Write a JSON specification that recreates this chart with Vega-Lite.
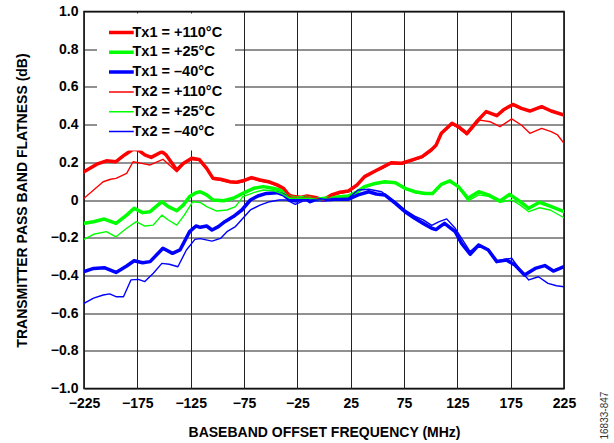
{
  "$schema": "https://vega.github.io/schema/vega-lite/v6.json",
  "width": 480,
  "height": 377,
  "autosize": {"type": "none"},
  "padding": {"left": 84, "top": 11.5, "right": 50, "bottom": 54.5},
  "background": "white",
  "config": {
    "font": "Liberation Sans",
    "view": {"stroke": "black", "strokeWidth": 1.5}
  },
  "title": {
    "text": "16833-847",
    "orient": "right",
    "anchor": "end",
    "frame": "bounds",
    "angle": -90,
    "align": "left",
    "baseline": "middle",
    "fontSize": 10,
    "fontWeight": "normal",
    "color": "#333333",
    "font": "Liberation Sans",
    "offset": 19
  },
  "data": {
    "values": [
      {"s": "Tx1 = +110°C", "f": -225, "v": 0.15},
      {"s": "Tx1 = +110°C", "f": -219, "v": 0.17},
      {"s": "Tx1 = +110°C", "f": -213, "v": 0.19},
      {"s": "Tx1 = +110°C", "f": -204, "v": 0.208},
      {"s": "Tx1 = +110°C", "f": -195, "v": 0.203},
      {"s": "Tx1 = +110°C", "f": -187, "v": 0.239},
      {"s": "Tx1 = +110°C", "f": -179, "v": 0.269},
      {"s": "Tx1 = +110°C", "f": -174, "v": 0.265},
      {"s": "Tx1 = +110°C", "f": -168, "v": 0.239},
      {"s": "Tx1 = +110°C", "f": -162, "v": 0.226},
      {"s": "Tx1 = +110°C", "f": -152, "v": 0.256},
      {"s": "Tx1 = +110°C", "f": -148, "v": 0.239},
      {"s": "Tx1 = +110°C", "f": -138, "v": 0.159},
      {"s": "Tx1 = +110°C", "f": -132, "v": 0.194},
      {"s": "Tx1 = +110°C", "f": -124, "v": 0.221},
      {"s": "Tx1 = +110°C", "f": -117, "v": 0.215},
      {"s": "Tx1 = +110°C", "f": -110, "v": 0.168},
      {"s": "Tx1 = +110°C", "f": -104, "v": 0.115},
      {"s": "Tx1 = +110°C", "f": -97, "v": 0.11},
      {"s": "Tx1 = +110°C", "f": -88, "v": 0.097},
      {"s": "Tx1 = +110°C", "f": -82, "v": 0.094},
      {"s": "Tx1 = +110°C", "f": -76, "v": 0.102},
      {"s": "Tx1 = +110°C", "f": -68, "v": 0.119},
      {"s": "Tx1 = +110°C", "f": -60, "v": 0.106},
      {"s": "Tx1 = +110°C", "f": -52, "v": 0.097},
      {"s": "Tx1 = +110°C", "f": -44, "v": 0.08},
      {"s": "Tx1 = +110°C", "f": -38, "v": 0.062},
      {"s": "Tx1 = +110°C", "f": -33, "v": 0.027},
      {"s": "Tx1 = +110°C", "f": -29, "v": 0.018},
      {"s": "Tx1 = +110°C", "f": -22, "v": 0.014},
      {"s": "Tx1 = +110°C", "f": -16, "v": 0.021},
      {"s": "Tx1 = +110°C", "f": -8, "v": 0.014},
      {"s": "Tx1 = +110°C", "f": -1, "v": 0.0},
      {"s": "Tx1 = +110°C", "f": 7, "v": 0.027},
      {"s": "Tx1 = +110°C", "f": 15, "v": 0.041},
      {"s": "Tx1 = +110°C", "f": 23, "v": 0.048},
      {"s": "Tx1 = +110°C", "f": 31, "v": 0.08},
      {"s": "Tx1 = +110°C", "f": 38, "v": 0.124},
      {"s": "Tx1 = +110°C", "f": 48, "v": 0.154},
      {"s": "Tx1 = +110°C", "f": 56, "v": 0.177},
      {"s": "Tx1 = +110°C", "f": 63, "v": 0.198},
      {"s": "Tx1 = +110°C", "f": 73, "v": 0.195},
      {"s": "Tx1 = +110°C", "f": 82, "v": 0.212},
      {"s": "Tx1 = +110°C", "f": 92, "v": 0.23},
      {"s": "Tx1 = +110°C", "f": 101, "v": 0.268},
      {"s": "Tx1 = +110°C", "f": 105, "v": 0.29},
      {"s": "Tx1 = +110°C", "f": 110, "v": 0.354},
      {"s": "Tx1 = +110°C", "f": 120, "v": 0.407},
      {"s": "Tx1 = +110°C", "f": 126, "v": 0.389},
      {"s": "Tx1 = +110°C", "f": 134, "v": 0.354},
      {"s": "Tx1 = +110°C", "f": 143, "v": 0.415},
      {"s": "Tx1 = +110°C", "f": 152, "v": 0.469},
      {"s": "Tx1 = +110°C", "f": 162, "v": 0.447},
      {"s": "Tx1 = +110°C", "f": 168, "v": 0.477},
      {"s": "Tx1 = +110°C", "f": 177, "v": 0.507},
      {"s": "Tx1 = +110°C", "f": 185, "v": 0.486},
      {"s": "Tx1 = +110°C", "f": 193, "v": 0.472},
      {"s": "Tx1 = +110°C", "f": 204, "v": 0.495},
      {"s": "Tx1 = +110°C", "f": 213, "v": 0.472},
      {"s": "Tx1 = +110°C", "f": 225, "v": 0.451},

      {"s": "Tx1 = +25°C", "f": -225, "v": -0.124},
      {"s": "Tx1 = +25°C", "f": -216, "v": -0.115},
      {"s": "Tx1 = +25°C", "f": -206, "v": -0.101},
      {"s": "Tx1 = +25°C", "f": -195, "v": -0.124},
      {"s": "Tx1 = +25°C", "f": -185, "v": -0.08},
      {"s": "Tx1 = +25°C", "f": -178, "v": -0.044},
      {"s": "Tx1 = +25°C", "f": -170, "v": -0.067},
      {"s": "Tx1 = +25°C", "f": -163, "v": -0.062},
      {"s": "Tx1 = +25°C", "f": -152, "v": -0.009},
      {"s": "Tx1 = +25°C", "f": -146, "v": -0.035},
      {"s": "Tx1 = +25°C", "f": -138, "v": -0.057},
      {"s": "Tx1 = +25°C", "f": -132, "v": -0.027},
      {"s": "Tx1 = +25°C", "f": -126, "v": 0.018},
      {"s": "Tx1 = +25°C", "f": -120, "v": 0.039},
      {"s": "Tx1 = +25°C", "f": -116, "v": 0.044},
      {"s": "Tx1 = +25°C", "f": -110, "v": 0.027},
      {"s": "Tx1 = +25°C", "f": -104, "v": 0.0},
      {"s": "Tx1 = +25°C", "f": -94, "v": -0.004},
      {"s": "Tx1 = +25°C", "f": -85, "v": 0.009},
      {"s": "Tx1 = +25°C", "f": -76, "v": 0.035},
      {"s": "Tx1 = +25°C", "f": -66, "v": 0.062},
      {"s": "Tx1 = +25°C", "f": -57, "v": 0.071},
      {"s": "Tx1 = +25°C", "f": -48, "v": 0.062},
      {"s": "Tx1 = +25°C", "f": -41, "v": 0.053},
      {"s": "Tx1 = +25°C", "f": -33, "v": 0.018},
      {"s": "Tx1 = +25°C", "f": -26, "v": 0.009},
      {"s": "Tx1 = +25°C", "f": -16, "v": 0.014},
      {"s": "Tx1 = +25°C", "f": -8, "v": 0.004},
      {"s": "Tx1 = +25°C", "f": 1, "v": 0.009},
      {"s": "Tx1 = +25°C", "f": 10, "v": 0.014},
      {"s": "Tx1 = +25°C", "f": 23, "v": 0.021},
      {"s": "Tx1 = +25°C", "f": 31, "v": 0.044},
      {"s": "Tx1 = +25°C", "f": 38, "v": 0.071},
      {"s": "Tx1 = +25°C", "f": 48, "v": 0.088},
      {"s": "Tx1 = +25°C", "f": 57, "v": 0.097},
      {"s": "Tx1 = +25°C", "f": 67, "v": 0.092},
      {"s": "Tx1 = +25°C", "f": 76, "v": 0.062},
      {"s": "Tx1 = +25°C", "f": 85, "v": 0.044},
      {"s": "Tx1 = +25°C", "f": 95, "v": 0.035},
      {"s": "Tx1 = +25°C", "f": 102, "v": 0.035},
      {"s": "Tx1 = +25°C", "f": 106, "v": 0.06},
      {"s": "Tx1 = +25°C", "f": 110, "v": 0.083},
      {"s": "Tx1 = +25°C", "f": 118, "v": 0.101},
      {"s": "Tx1 = +25°C", "f": 126, "v": 0.071},
      {"s": "Tx1 = +25°C", "f": 135, "v": 0.009},
      {"s": "Tx1 = +25°C", "f": 145, "v": 0.044},
      {"s": "Tx1 = +25°C", "f": 154, "v": 0.027},
      {"s": "Tx1 = +25°C", "f": 165, "v": -0.005},
      {"s": "Tx1 = +25°C", "f": 174, "v": 0.03},
      {"s": "Tx1 = +25°C", "f": 184, "v": -0.009},
      {"s": "Tx1 = +25°C", "f": 192, "v": -0.044},
      {"s": "Tx1 = +25°C", "f": 202, "v": -0.012},
      {"s": "Tx1 = +25°C", "f": 212, "v": -0.032},
      {"s": "Tx1 = +25°C", "f": 225, "v": -0.062},

      {"s": "Tx1 = –40°C", "f": -225, "v": -0.38},
      {"s": "Tx1 = –40°C", "f": -216, "v": -0.363},
      {"s": "Tx1 = –40°C", "f": -206, "v": -0.359},
      {"s": "Tx1 = –40°C", "f": -195, "v": -0.384},
      {"s": "Tx1 = –40°C", "f": -185, "v": -0.35},
      {"s": "Tx1 = –40°C", "f": -178, "v": -0.322},
      {"s": "Tx1 = –40°C", "f": -170, "v": -0.333},
      {"s": "Tx1 = –40°C", "f": -163, "v": -0.327},
      {"s": "Tx1 = –40°C", "f": -151, "v": -0.256},
      {"s": "Tx1 = –40°C", "f": -142, "v": -0.283},
      {"s": "Tx1 = –40°C", "f": -135, "v": -0.265},
      {"s": "Tx1 = –40°C", "f": -126, "v": -0.168},
      {"s": "Tx1 = –40°C", "f": -120, "v": -0.138},
      {"s": "Tx1 = –40°C", "f": -116, "v": -0.145},
      {"s": "Tx1 = –40°C", "f": -110, "v": -0.138},
      {"s": "Tx1 = –40°C", "f": -105, "v": -0.159},
      {"s": "Tx1 = –40°C", "f": -99, "v": -0.141},
      {"s": "Tx1 = –40°C", "f": -93, "v": -0.115},
      {"s": "Tx1 = –40°C", "f": -85, "v": -0.088},
      {"s": "Tx1 = –40°C", "f": -77, "v": -0.053},
      {"s": "Tx1 = –40°C", "f": -69, "v": 0.0},
      {"s": "Tx1 = –40°C", "f": -62, "v": 0.021},
      {"s": "Tx1 = –40°C", "f": -54, "v": 0.035},
      {"s": "Tx1 = –40°C", "f": -44, "v": 0.039},
      {"s": "Tx1 = –40°C", "f": -38, "v": 0.027},
      {"s": "Tx1 = –40°C", "f": -32, "v": 0.0},
      {"s": "Tx1 = –40°C", "f": -26, "v": -0.005},
      {"s": "Tx1 = –40°C", "f": -18, "v": 0.009},
      {"s": "Tx1 = –40°C", "f": -13, "v": -0.009},
      {"s": "Tx1 = –40°C", "f": -8, "v": 0.002},
      {"s": "Tx1 = –40°C", "f": 0, "v": 0.0},
      {"s": "Tx1 = –40°C", "f": 10, "v": 0.004},
      {"s": "Tx1 = –40°C", "f": 23, "v": 0.004},
      {"s": "Tx1 = –40°C", "f": 32, "v": 0.027},
      {"s": "Tx1 = –40°C", "f": 42, "v": 0.044},
      {"s": "Tx1 = –40°C", "f": 49, "v": 0.032},
      {"s": "Tx1 = –40°C", "f": 57, "v": 0.027},
      {"s": "Tx1 = –40°C", "f": 67, "v": -0.018},
      {"s": "Tx1 = –40°C", "f": 76, "v": -0.062},
      {"s": "Tx1 = –40°C", "f": 85, "v": -0.097},
      {"s": "Tx1 = –40°C", "f": 93, "v": -0.124},
      {"s": "Tx1 = –40°C", "f": 101, "v": -0.15},
      {"s": "Tx1 = –40°C", "f": 105, "v": -0.157},
      {"s": "Tx1 = –40°C", "f": 109, "v": -0.14},
      {"s": "Tx1 = –40°C", "f": 113, "v": -0.124},
      {"s": "Tx1 = –40°C", "f": 123, "v": -0.168},
      {"s": "Tx1 = –40°C", "f": 129, "v": -0.23},
      {"s": "Tx1 = –40°C", "f": 137, "v": -0.288},
      {"s": "Tx1 = –40°C", "f": 145, "v": -0.239},
      {"s": "Tx1 = –40°C", "f": 154, "v": -0.265},
      {"s": "Tx1 = –40°C", "f": 162, "v": -0.327},
      {"s": "Tx1 = –40°C", "f": 171, "v": -0.318},
      {"s": "Tx1 = –40°C", "f": 179, "v": -0.345},
      {"s": "Tx1 = –40°C", "f": 188, "v": -0.398},
      {"s": "Tx1 = –40°C", "f": 198, "v": -0.363},
      {"s": "Tx1 = –40°C", "f": 207, "v": -0.348},
      {"s": "Tx1 = –40°C", "f": 215, "v": -0.377},
      {"s": "Tx1 = –40°C", "f": 225, "v": -0.354},

      {"s": "Tx2 = +110°C", "f": -225, "v": 0.009},
      {"s": "Tx2 = +110°C", "f": -216, "v": 0.053},
      {"s": "Tx2 = +110°C", "f": -207, "v": 0.097},
      {"s": "Tx2 = +110°C", "f": -200, "v": 0.11},
      {"s": "Tx2 = +110°C", "f": -195, "v": 0.115},
      {"s": "Tx2 = +110°C", "f": -185, "v": 0.141},
      {"s": "Tx2 = +110°C", "f": -179, "v": 0.203},
      {"s": "Tx2 = +110°C", "f": -171, "v": 0.194},
      {"s": "Tx2 = +110°C", "f": -163, "v": 0.186},
      {"s": "Tx2 = +110°C", "f": -151, "v": 0.216},
      {"s": "Tx2 = +110°C", "f": -145, "v": 0.186},
      {"s": "Tx2 = +110°C", "f": -138, "v": 0.15},
      {"s": "Tx2 = +110°C", "f": -132, "v": 0.19},
      {"s": "Tx2 = +110°C", "f": -124, "v": 0.215},
      {"s": "Tx2 = +110°C", "f": -117, "v": 0.21},
      {"s": "Tx2 = +110°C", "f": -110, "v": 0.163},
      {"s": "Tx2 = +110°C", "f": -104, "v": 0.11},
      {"s": "Tx2 = +110°C", "f": -97, "v": 0.105},
      {"s": "Tx2 = +110°C", "f": -88, "v": 0.092},
      {"s": "Tx2 = +110°C", "f": -82, "v": 0.09},
      {"s": "Tx2 = +110°C", "f": -76, "v": 0.097},
      {"s": "Tx2 = +110°C", "f": -68, "v": 0.114},
      {"s": "Tx2 = +110°C", "f": -60, "v": 0.101},
      {"s": "Tx2 = +110°C", "f": -52, "v": 0.092},
      {"s": "Tx2 = +110°C", "f": -44, "v": 0.075},
      {"s": "Tx2 = +110°C", "f": -38, "v": 0.057},
      {"s": "Tx2 = +110°C", "f": -33, "v": 0.022},
      {"s": "Tx2 = +110°C", "f": -29, "v": 0.013},
      {"s": "Tx2 = +110°C", "f": -22, "v": 0.01},
      {"s": "Tx2 = +110°C", "f": -16, "v": 0.016},
      {"s": "Tx2 = +110°C", "f": -8, "v": 0.01},
      {"s": "Tx2 = +110°C", "f": -1, "v": -0.003},
      {"s": "Tx2 = +110°C", "f": 7, "v": 0.022},
      {"s": "Tx2 = +110°C", "f": 15, "v": 0.036},
      {"s": "Tx2 = +110°C", "f": 23, "v": 0.044},
      {"s": "Tx2 = +110°C", "f": 31, "v": 0.075},
      {"s": "Tx2 = +110°C", "f": 38, "v": 0.118},
      {"s": "Tx2 = +110°C", "f": 48, "v": 0.15},
      {"s": "Tx2 = +110°C", "f": 56, "v": 0.172},
      {"s": "Tx2 = +110°C", "f": 63, "v": 0.193},
      {"s": "Tx2 = +110°C", "f": 73, "v": 0.19},
      {"s": "Tx2 = +110°C", "f": 82, "v": 0.207},
      {"s": "Tx2 = +110°C", "f": 92, "v": 0.225},
      {"s": "Tx2 = +110°C", "f": 101, "v": 0.262},
      {"s": "Tx2 = +110°C", "f": 105, "v": 0.285},
      {"s": "Tx2 = +110°C", "f": 110, "v": 0.35},
      {"s": "Tx2 = +110°C", "f": 120, "v": 0.401},
      {"s": "Tx2 = +110°C", "f": 126, "v": 0.382},
      {"s": "Tx2 = +110°C", "f": 134, "v": 0.345},
      {"s": "Tx2 = +110°C", "f": 146, "v": 0.424},
      {"s": "Tx2 = +110°C", "f": 156, "v": 0.415},
      {"s": "Tx2 = +110°C", "f": 165, "v": 0.389},
      {"s": "Tx2 = +110°C", "f": 176, "v": 0.43},
      {"s": "Tx2 = +110°C", "f": 185, "v": 0.398},
      {"s": "Tx2 = +110°C", "f": 193, "v": 0.354},
      {"s": "Tx2 = +110°C", "f": 204, "v": 0.38},
      {"s": "Tx2 = +110°C", "f": 213, "v": 0.363},
      {"s": "Tx2 = +110°C", "f": 219, "v": 0.345},
      {"s": "Tx2 = +110°C", "f": 225, "v": 0.3},

      {"s": "Tx2 = +25°C", "f": -225, "v": -0.209},
      {"s": "Tx2 = +25°C", "f": -216, "v": -0.182},
      {"s": "Tx2 = +25°C", "f": -204, "v": -0.168},
      {"s": "Tx2 = +25°C", "f": -195, "v": -0.195},
      {"s": "Tx2 = +25°C", "f": -185, "v": -0.15},
      {"s": "Tx2 = +25°C", "f": -176, "v": -0.115},
      {"s": "Tx2 = +25°C", "f": -168, "v": -0.138},
      {"s": "Tx2 = +25°C", "f": -160, "v": -0.133},
      {"s": "Tx2 = +25°C", "f": -152, "v": -0.08},
      {"s": "Tx2 = +25°C", "f": -146, "v": -0.106},
      {"s": "Tx2 = +25°C", "f": -138, "v": -0.133},
      {"s": "Tx2 = +25°C", "f": -131, "v": -0.08},
      {"s": "Tx2 = +25°C", "f": -123, "v": -0.009},
      {"s": "Tx2 = +25°C", "f": -116, "v": -0.013},
      {"s": "Tx2 = +25°C", "f": -110, "v": -0.035},
      {"s": "Tx2 = +25°C", "f": -101, "v": -0.058},
      {"s": "Tx2 = +25°C", "f": -91, "v": -0.053},
      {"s": "Tx2 = +25°C", "f": -83, "v": -0.035},
      {"s": "Tx2 = +25°C", "f": -76, "v": 0.018},
      {"s": "Tx2 = +25°C", "f": -66, "v": 0.039},
      {"s": "Tx2 = +25°C", "f": -57, "v": 0.053},
      {"s": "Tx2 = +25°C", "f": -47, "v": 0.049},
      {"s": "Tx2 = +25°C", "f": -40, "v": 0.035},
      {"s": "Tx2 = +25°C", "f": -32, "v": 0.009},
      {"s": "Tx2 = +25°C", "f": -22, "v": 0.009},
      {"s": "Tx2 = +25°C", "f": -13, "v": 0.009},
      {"s": "Tx2 = +25°C", "f": -4, "v": 0.0},
      {"s": "Tx2 = +25°C", "f": 10, "v": 0.012},
      {"s": "Tx2 = +25°C", "f": 23, "v": 0.018},
      {"s": "Tx2 = +25°C", "f": 31, "v": 0.04},
      {"s": "Tx2 = +25°C", "f": 38, "v": 0.066},
      {"s": "Tx2 = +25°C", "f": 48, "v": 0.084},
      {"s": "Tx2 = +25°C", "f": 57, "v": 0.093},
      {"s": "Tx2 = +25°C", "f": 67, "v": 0.088},
      {"s": "Tx2 = +25°C", "f": 76, "v": 0.058},
      {"s": "Tx2 = +25°C", "f": 85, "v": 0.04},
      {"s": "Tx2 = +25°C", "f": 95, "v": 0.03},
      {"s": "Tx2 = +25°C", "f": 102, "v": 0.032},
      {"s": "Tx2 = +25°C", "f": 106, "v": 0.058},
      {"s": "Tx2 = +25°C", "f": 110, "v": 0.085},
      {"s": "Tx2 = +25°C", "f": 118, "v": 0.106},
      {"s": "Tx2 = +25°C", "f": 126, "v": 0.07},
      {"s": "Tx2 = +25°C", "f": 135, "v": -0.005},
      {"s": "Tx2 = +25°C", "f": 145, "v": 0.027},
      {"s": "Tx2 = +25°C", "f": 154, "v": 0.02},
      {"s": "Tx2 = +25°C", "f": 165, "v": -0.012},
      {"s": "Tx2 = +25°C", "f": 176, "v": 0.0},
      {"s": "Tx2 = +25°C", "f": 184, "v": -0.027},
      {"s": "Tx2 = +25°C", "f": 192, "v": -0.062},
      {"s": "Tx2 = +25°C", "f": 202, "v": -0.041},
      {"s": "Tx2 = +25°C", "f": 212, "v": -0.053},
      {"s": "Tx2 = +25°C", "f": 225, "v": -0.094},

      {"s": "Tx2 = –40°C", "f": -225, "v": -0.548},
      {"s": "Tx2 = –40°C", "f": -216, "v": -0.521},
      {"s": "Tx2 = –40°C", "f": -207, "v": -0.504},
      {"s": "Tx2 = –40°C", "f": -201, "v": -0.498},
      {"s": "Tx2 = –40°C", "f": -195, "v": -0.513},
      {"s": "Tx2 = –40°C", "f": -188, "v": -0.513},
      {"s": "Tx2 = –40°C", "f": -181, "v": -0.424},
      {"s": "Tx2 = –40°C", "f": -174, "v": -0.421},
      {"s": "Tx2 = –40°C", "f": -168, "v": -0.433},
      {"s": "Tx2 = –40°C", "f": -160, "v": -0.389},
      {"s": "Tx2 = –40°C", "f": -152, "v": -0.336},
      {"s": "Tx2 = –40°C", "f": -145, "v": -0.341},
      {"s": "Tx2 = –40°C", "f": -137, "v": -0.354},
      {"s": "Tx2 = –40°C", "f": -129, "v": -0.265},
      {"s": "Tx2 = –40°C", "f": -121, "v": -0.209},
      {"s": "Tx2 = –40°C", "f": -116, "v": -0.205},
      {"s": "Tx2 = –40°C", "f": -105, "v": -0.218},
      {"s": "Tx2 = –40°C", "f": -97, "v": -0.204},
      {"s": "Tx2 = –40°C", "f": -91, "v": -0.168},
      {"s": "Tx2 = –40°C", "f": -83, "v": -0.141},
      {"s": "Tx2 = –40°C", "f": -76, "v": -0.097},
      {"s": "Tx2 = –40°C", "f": -69, "v": -0.053},
      {"s": "Tx2 = –40°C", "f": -60, "v": -0.027},
      {"s": "Tx2 = –40°C", "f": -51, "v": -0.009},
      {"s": "Tx2 = –40°C", "f": -42, "v": 0.0},
      {"s": "Tx2 = –40°C", "f": -35, "v": 0.0},
      {"s": "Tx2 = –40°C", "f": -27, "v": -0.023},
      {"s": "Tx2 = –40°C", "f": -19, "v": -0.005},
      {"s": "Tx2 = –40°C", "f": -10, "v": 0.0},
      {"s": "Tx2 = –40°C", "f": 0, "v": 0.002},
      {"s": "Tx2 = –40°C", "f": 10, "v": 0.008},
      {"s": "Tx2 = –40°C", "f": 23, "v": 0.01},
      {"s": "Tx2 = –40°C", "f": 32, "v": 0.053},
      {"s": "Tx2 = –40°C", "f": 42, "v": 0.057},
      {"s": "Tx2 = –40°C", "f": 54, "v": 0.044},
      {"s": "Tx2 = –40°C", "f": 67, "v": -0.009},
      {"s": "Tx2 = –40°C", "f": 76, "v": -0.053},
      {"s": "Tx2 = –40°C", "f": 85, "v": -0.085},
      {"s": "Tx2 = –40°C", "f": 93, "v": -0.105},
      {"s": "Tx2 = –40°C", "f": 101, "v": -0.135},
      {"s": "Tx2 = –40°C", "f": 108, "v": -0.115},
      {"s": "Tx2 = –40°C", "f": 115, "v": -0.1},
      {"s": "Tx2 = –40°C", "f": 123, "v": -0.15},
      {"s": "Tx2 = –40°C", "f": 137, "v": -0.274},
      {"s": "Tx2 = –40°C", "f": 145, "v": -0.235},
      {"s": "Tx2 = –40°C", "f": 154, "v": -0.26},
      {"s": "Tx2 = –40°C", "f": 162, "v": -0.322},
      {"s": "Tx2 = –40°C", "f": 176, "v": -0.309},
      {"s": "Tx2 = –40°C", "f": 185, "v": -0.38},
      {"s": "Tx2 = –40°C", "f": 192, "v": -0.424},
      {"s": "Tx2 = –40°C", "f": 201, "v": -0.407},
      {"s": "Tx2 = –40°C", "f": 210, "v": -0.442},
      {"s": "Tx2 = –40°C", "f": 218, "v": -0.455},
      {"s": "Tx2 = –40°C", "f": 225, "v": -0.46}
    ]
  },
  "mark": {"type": "line", "strokeJoin": "round", "strokeCap": "round", "clip": true},
  "encoding": {
    "x": {
      "field": "f",
      "type": "quantitative",
      "scale": {"domain": [-225, 225], "nice": false, "zero": false},
      "axis": {
        "values": [-225, -175, -125, -75, -25, 25, 75, 125, 175, 225],
        "labelExpr": "replace(format(datum.value, 'd'), '-', '–')",
        "labelFlush": false,
        "labelOverlap": false,
        "labelFont": "Liberation Sans",
        "labelFontSize": 14,
        "labelFontWeight": "bold",
        "labelColor": "black",
        "labelPadding": 8,
        "ticks": false,
        "grid": true,
        "gridColor": "#222222",
        "gridWidth": 1,
        "gridOpacity": 1,
        "domain": false,
        "title": "BASEBAND OFFSET FREQUENCY (MHz)",
        "titleFont": "Liberation Sans",
        "titleFontSize": 14,
        "titleFontWeight": "bold",
        "titleColor": "black",
        "titlePadding": 15
      }
    },
    "y": {
      "field": "v",
      "type": "quantitative",
      "scale": {"domain": [-1, 1], "nice": false, "zero": false},
      "axis": {
        "values": [-1, -0.8, -0.6, -0.4, -0.2, 0, 0.2, 0.4, 0.6, 0.8, 1],
        "labelExpr": "datum.value == 0 ? '0' : replace(format(datum.value, '.1f'), '-', '–')",
        "labelFlush": false,
        "labelOverlap": false,
        "labelFont": "Liberation Sans",
        "labelFontSize": 14,
        "labelFontWeight": "bold",
        "labelColor": "black",
        "labelPadding": 6,
        "ticks": false,
        "grid": true,
        "gridColor": "#222222",
        "gridWidth": 1,
        "gridOpacity": 1,
        "domain": false,
        "title": "TRANSMITTER PASS BAND FLATNESS (dB)",
        "titleFont": "Liberation Sans",
        "titleFontSize": 14,
        "titleFontWeight": "bold",
        "titleColor": "black",
        "titlePadding": 21
      }
    },
    "color": {
      "field": "s",
      "type": "nominal",
      "scale": {
        "domain": ["Tx1 = +110°C", "Tx1 = +25°C", "Tx1 = –40°C", "Tx2 = +110°C", "Tx2 = +25°C", "Tx2 = –40°C"],
        "range": ["#ff0000", "#00ff00", "#0000ff", "#ff0000", "#00ff00", "#0000ff"]
      },
      "legend": {
        "title": null,
        "orient": "none",
        "legendX": 13,
        "legendY": 2,
        "fillColor": "white",
        "padding": 12,
        "symbolType": "stroke",
        "symbolSize": 1225,
        "symbolStrokeWidth": 3.5,
        "clipHeight": 14,
        "rowPadding": 4.8,
        "labelOffset": 9,
        "labelFont": "Liberation Sans",
        "labelFontSize": 14.5,
        "labelFontWeight": "bold",
        "labelColor": "black",
        "encode": {
          "symbols": {
            "update": {
              "strokeWidth": {"signal": "test(/^Tx1/, datum.value) ? 3.5 : 1.5"}
            }
          }
        }
      }
    },
    "strokeWidth": {
      "condition": {"test": "test(/^Tx1/, datum.s)", "value": 3.5},
      "value": 1.4
    }
  }
}
